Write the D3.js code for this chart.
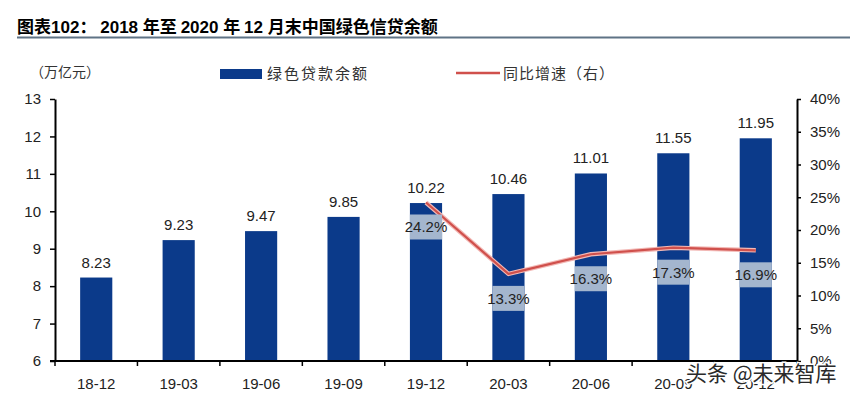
<!DOCTYPE html>
<html>
<head>
<meta charset="utf-8">
<script src="https://cdn.jsdelivr.net/npm/d3@7/dist/d3.min.js"></script>
<style>
  html, body { margin: 0; padding: 0; background: #fff; }
  svg { display: block; }
</style>
</head>
<body>
<svg id="chart" width="860" height="396"></svg>
<script>
const categories = ["18-12", "19-03", "19-06", "19-09", "19-12", "20-03", "20-06", "20-09", "20-12"];
const loanBalance = [8.23, 9.23, 9.47, 9.85, 10.22, 10.46, 11.01, 11.55, 11.95];
const growthCategories = ["19-12", "20-03", "20-06", "20-09", "20-12"];
const growthRate = [24.2, 13.3, 16.3, 17.3, 16.9];
const leftTicks = [6, 7, 8, 9, 10, 11, 12, 13];
const rightTicks = [0, 5, 10, 15, 20, 25, 30, 35, 40];

const svg = d3.select("#chart");
const latin = "'Liberation Sans', Arial, sans-serif";
const cjk = "'Noto Sans CJK SC', sans-serif";

const m = { left: 55, right: 797, top: 99, bottom: 361 };

const x = d3.scaleBand().domain(categories).range([m.left, m.right]).paddingInner(0.61).paddingOuter(0.305);
const band = (m.right - m.left) / categories.length;
const yL = d3.scaleLinear().domain([6, 13]).range([m.bottom, m.top]);
const yR = d3.scaleLinear().domain([0, 40]).range([m.bottom, m.top]);

// Title
const title = svg.append("text").attr("x", 17).attr("y", 33)
  .attr("font-weight", "bold").attr("font-size", 17).attr("fill", "#000");
title.append("tspan").attr("font-family", cjk).text("图表");
title.append("tspan").attr("font-family", latin).text("102");
title.append("tspan").attr("font-family", cjk).text("：  ");
title.append("tspan").attr("font-family", latin).text("2018 ");
title.append("tspan").attr("font-family", cjk).text("年至 ");
title.append("tspan").attr("font-family", latin).text("2020 ");
title.append("tspan").attr("font-family", cjk).text("年 ");
title.append("tspan").attr("font-family", latin).text("12 ");
title.append("tspan").attr("font-family", cjk).text("月末中国绿色信贷余额");
svg.append("line").attr("x1", 17).attr("x2", 850).attr("y1", 37.5).attr("y2", 37.5)
  .attr("stroke", "#5f7385").attr("stroke-width", 2);

// Unit label
svg.append("text").attr("x", 30).attr("y", 77).attr("font-family", cjk).attr("font-size", 14)
  .attr("fill", "#333").text("（万亿元）");

// Legend
svg.append("rect").attr("x", 220).attr("y", 69).attr("width", 42).attr("height", 10).attr("fill", "#0b3a8a");
svg.append("text").attr("x", 267).attr("y", 79).attr("font-family", cjk).attr("font-size", 15)
  .attr("letter-spacing", 2).attr("fill", "#333").text("绿色贷款余额");
svg.append("line").attr("x1", 456).attr("x2", 500).attr("y1", 73).attr("y2", 73)
  .attr("stroke", "#d0504c").attr("stroke-width", 2.5);
svg.append("text").attr("x", 503).attr("y", 79).attr("font-family", cjk).attr("font-size", 15)
  .attr("letter-spacing", 1).attr("fill", "#333").text("同比增速（右）");

// Bars
svg.append("g").selectAll("rect").data(categories).join("rect")
  .attr("x", (d) => x(d))
  .attr("width", x.bandwidth())
  .attr("y", (d, i) => yL(loanBalance[i]))
  .attr("height", (d, i) => yL(6) - yL(loanBalance[i]))
  .attr("fill", "#0b3a8a");

// Bar value labels
svg.append("g").selectAll("text").data(categories).join("text")
  .attr("x", (d) => x(d) + x.bandwidth() / 2)
  .attr("y", (d, i) => yL(loanBalance[i]) - 10)
  .attr("text-anchor", "middle")
  .attr("font-family", latin).attr("font-size", 15).attr("fill", "#222")
  .text((d, i) => loanBalance[i].toFixed(2));

// Left axis
const axL = svg.append("g").attr("transform", `translate(${m.left},0)`)
  .call(d3.axisLeft(yL).tickValues(leftTicks).tickFormat(d3.format("d")).tickSize(5).tickSizeOuter(0).tickPadding(9));
axL.select(".domain").attr("stroke", "#000").attr("stroke-width", 2);
axL.selectAll(".tick line").attr("stroke", "#000").attr("stroke-width", 1.5);
axL.selectAll(".tick text").attr("font-family", latin).attr("font-size", 15).attr("fill", "#222");

// Right axis
const axR = svg.append("g").attr("transform", `translate(${m.right},0)`)
  .call(d3.axisRight(yR).tickValues(rightTicks).tickFormat((d) => d + "%").tickSize(4).tickSizeOuter(0).tickPadding(9));
axR.select(".domain").attr("stroke", "#000").attr("stroke-width", 2);
axR.selectAll(".tick line").attr("stroke", "#000").attr("stroke-width", 1.5);
axR.selectAll(".tick text").attr("font-family", latin).attr("font-size", 15).attr("fill", "#222");

// Bottom axis
svg.append("line").attr("x1", m.left - 5).attr("x2", m.right).attr("y1", m.bottom).attr("y2", m.bottom)
  .attr("stroke", "#000").attr("stroke-width", 2);
const boundaries = d3.range(categories.length + 1).map((i) => m.left + i * band);
svg.append("g").selectAll("line").data(boundaries).join("line")
  .attr("x1", (d) => d).attr("x2", (d) => d)
  .attr("y1", m.bottom).attr("y2", m.bottom + 5)
  .attr("stroke", "#000").attr("stroke-width", 1.5);
svg.append("g").selectAll("text").data(categories).join("text")
  .attr("x", (d) => x(d) + x.bandwidth() / 2)
  .attr("y", 389)
  .attr("text-anchor", "middle")
  .attr("font-family", latin).attr("font-size", 15).attr("fill", "#222")
  .text((d) => d);

// Growth line
const cx = (c) => x(c) + x.bandwidth() / 2;
const line = d3.line().x((d, i) => cx(growthCategories[i])).y((d) => yR(d));
svg.append("path").datum(growthRate).attr("d", line)
  .attr("fill", "none").attr("stroke", "#f2b8b5").attr("stroke-width", 4.5).attr("stroke-linejoin", "round");
svg.append("path").datum(growthRate).attr("d", line)
  .attr("fill", "none").attr("stroke", "#d0504c").attr("stroke-width", 2.2).attr("stroke-linejoin", "round");

// Growth labels with boxes
const lg = svg.append("g").selectAll("g").data(growthCategories).join("g");
lg.append("rect")
  .attr("x", (d) => x(d))
  .attr("width", x.bandwidth())
  .attr("y", (d, i) => yR(growthRate[i]) + 12)
  .attr("height", 25)
  .attr("fill", "#a4b6ce");
lg.append("text")
  .attr("x", (d) => cx(d))
  .attr("y", (d, i) => yR(growthRate[i]) + 30)
  .attr("text-anchor", "middle")
  .attr("font-family", latin).attr("font-size", 15).attr("fill", "#222")
  .text((d, i) => growthRate[i].toFixed(1) + "%");

// Watermark
svg.append("text").attr("x", 686).attr("y", 381)
  .attr("font-family", cjk).attr("font-size", 21).attr("fill", "#2a2a2a")
  .attr("stroke", "#fff").attr("stroke-width", 3).attr("paint-order", "stroke")
  .text("头条 @未来智库");
</script>
</body>
</html>
